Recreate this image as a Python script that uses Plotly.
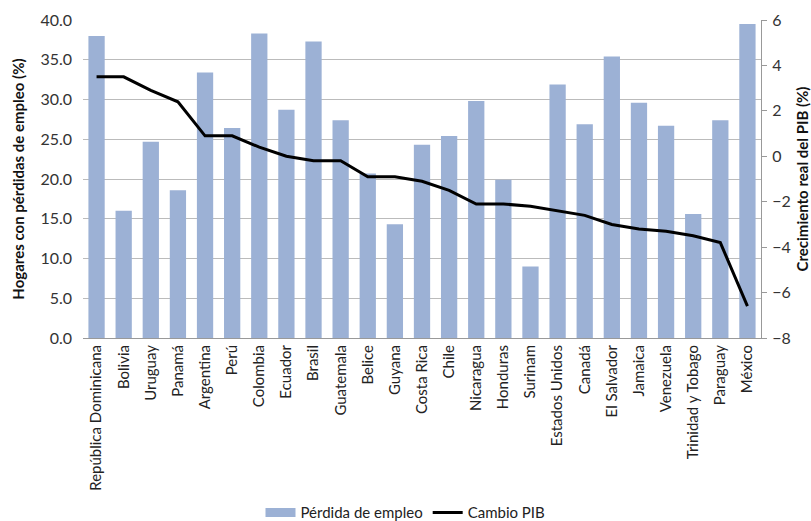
import plotly.graph_objects as go

countries = ["República Dominicana", "Bolivia", "Uruguay", "Panamá", "Argentina", "Perú",
             "Colombia", "Ecuador", "Brasil", "Guatemala", "Belice", "Guyana", "Costa Rica",
             "Chile", "Nicaragua", "Honduras", "Surinam", "Estados Unidos", "Canadá",
             "El Salvador", "Jamaica", "Venezuela", "Trinidad y Tobago", "Paraguay", "México"]
perdida_empleo = [38.0, 16.0, 24.7, 18.6, 33.4, 26.4, 38.3, 28.7, 37.3, 27.4, 20.7, 14.3, 24.3,
                  25.4, 29.8, 19.9, 9.0, 31.9, 26.9, 35.4, 29.6, 26.7, 15.6, 27.4, 39.5]
cambio_pib = [3.5, 3.5, 2.9, 2.4, 0.9, 0.9, 0.4, 0.0, -0.2, -0.2, -0.9, -0.9, -1.1,
              -1.5, -2.1, -2.1, -2.2, -2.4, -2.6, -3.0, -3.2, -3.3, -3.5, -3.8, -6.6]

FONT = "Lato"
BAR_COLOR = "#9CB1D5"

fig = go.Figure()
fig.add_trace(go.Bar(x=countries, y=perdida_empleo, name="Pérdida de empleo",
                     marker=dict(color=BAR_COLOR, line=dict(width=0)), yaxis="y",
                     showlegend=False))
fig.add_trace(go.Scatter(x=[None], y=[None], name="Pérdida de empleo", mode="lines",
                         line=dict(color=BAR_COLOR, width=9), yaxis="y", showlegend=True))
fig.add_trace(go.Scatter(x=countries, y=cambio_pib, name="Cambio PIB", mode="lines",
                         line=dict(color="black", width=3), yaxis="y2"))

fig.update_layout(
    width=811, height=521,
    margin=dict(l=83, r=50, t=20, b=183),
    paper_bgcolor="white", plot_bgcolor="white",
    font=dict(family=FONT, size=15, color="#333333"),
    bargap=0.4,
    showlegend=True,
    legend=dict(orientation="h", x=0.5, xanchor="center", xref="container",
                y=0.016, yanchor="middle", yref="container",
                font=dict(size=15, color="#222222"), traceorder="normal",
                itemwidth=30, tracegroupgap=0),
    xaxis=dict(tickangle=-90, showgrid=False, showline=True, linecolor="#999999",
               linewidth=1, ticks="", tickfont=dict(size=15, color="#222222"),
               range=[-0.5, 24.5], automargin=False),
    yaxis=dict(range=[0, 40], dtick=5, tickformat=".1f", showgrid=True,
               gridcolor="#BBBBBB", gridwidth=1, zeroline=False, showline=False,
               tickfont=dict(size=16, color="#333333"), automargin=False,
               ticklabelstandoff=10,
               title=dict(text="<b>Hogares con pérdidas de empleo (%)</b>",
                          font=dict(size=15, color="#111111"), standoff=12)),
    yaxis2=dict(range=[-8, 6], dtick=2, overlaying="y", side="right", showgrid=False,
                zeroline=False, showline=True, linecolor="#999999", linewidth=1,
                ticks="outside", ticklen=5, tickcolor="#999999", automargin=False,
                tickfont=dict(size=16, color="#333333"), ticklabelstandoff=2,
                title=dict(text="<b>Crecimiento real del PIB (%)</b>",
                           font=dict(size=15, color="#111111"), standoff=8)),
)

fig.write_html("out.html")
